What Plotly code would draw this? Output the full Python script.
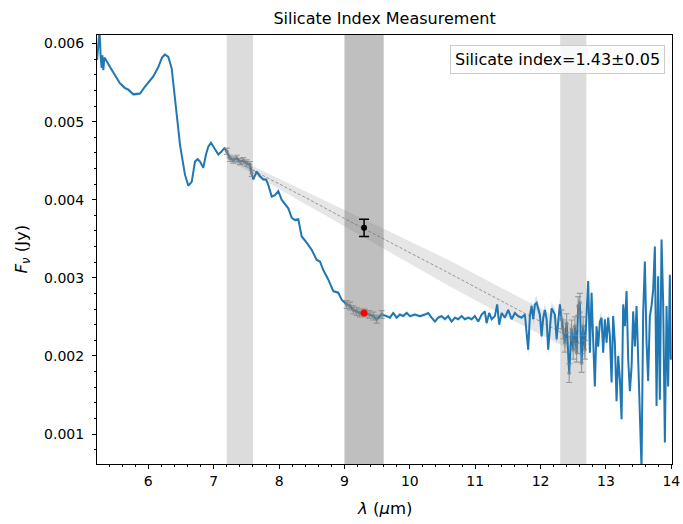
import numpy as np
import plotly.graph_objects as go

# ---------------- data ----------------
wave_um = [
    5.216, 5.235, 5.253, 5.272, 5.287, 5.297, 5.312, 5.327, 5.353, 5.414, 5.49, 5.567,
    5.644, 5.694, 5.771, 5.873, 5.95, 6.026, 6.076, 6.153, 6.209, 6.255, 6.306, 6.358,
    6.408, 6.454, 6.485, 6.531, 6.561, 6.612, 6.664, 6.714, 6.755, 6.79, 6.841, 6.882,
    6.917, 6.959, 7.005, 7.07, 7.112, 7.162, 7.20, 7.249, 7.30, 7.352, 7.402, 7.453,
    7.505, 7.555, 7.581, 7.606, 7.657, 7.708, 7.758, 7.80, 7.835, 7.887, 7.937, 7.988,
    8.04, 8.09, 8.141, 8.193, 8.243, 8.294, 8.346, 8.422, 8.498, 8.575, 8.625, 8.676,
    8.752, 8.829, 8.905, 8.957, 9.034, 9.084, 9.135, 9.186, 9.237, 9.313, 9.38, 9.44,
    9.492, 9.569, 9.645, 9.696, 9.746, 9.798, 9.849, 9.899, 9.951, 10.002, 10.078, 10.154,
    10.231, 10.281, 10.333, 10.384, 10.434, 10.486, 10.537, 10.587, 10.639, 10.69, 10.74, 10.792,
    10.843, 10.893, 10.945, 10.995, 11.046, 11.098, 11.148, 11.174, 11.214, 11.251, 11.301, 11.336,
    11.367, 11.404, 11.454, 11.505, 11.557, 11.607, 11.657, 11.709, 11.76, 11.81, 11.836, 11.862,
    11.887, 11.913, 11.939, 11.963, 11.989, 12.015, 12.04, 12.066, 12.092, 12.116, 12.142, 12.168,
    12.193, 12.219, 12.245, 12.269, 12.295, 12.321, 12.346, 12.371, 12.398, 12.437, 12.474, 12.499,
    12.525, 12.551, 12.575, 12.601, 12.627, 12.651, 12.677, 12.703, 12.728, 12.754, 12.78, 12.804,
    12.83, 12.856, 12.881, 12.907, 12.933, 12.957, 12.983, 13.009, 13.034, 13.06, 13.086, 13.11,
    13.136, 13.162, 13.187, 13.213, 13.239, 13.263, 13.289, 13.315, 13.34, 13.366, 13.392, 13.416,
    13.442, 13.468, 13.492, 13.518, 13.544, 13.569, 13.595, 13.621, 13.645, 13.671, 13.697, 13.722,
    13.748, 13.774, 13.798, 13.824, 13.85, 13.875, 13.901, 13.927, 13.951, 13.977, 13.992,
]
flux_mjy = [
    5.79, 5.94, 6.17, 5.82, 5.69, 5.85, 5.66, 5.82, 5.79, 5.70, 5.60, 5.49,
    5.43, 5.41, 5.35, 5.36, 5.45, 5.53, 5.58, 5.70, 5.82, 5.86, 5.83, 5.68,
    5.26, 4.90, 4.70, 4.47, 4.32, 4.18, 4.23, 4.49, 4.52, 4.49, 4.41, 4.58,
    4.68, 4.73, 4.66, 4.58, 4.61, 4.66, 4.62, 4.53, 4.51, 4.53, 4.49, 4.50,
    4.47, 4.45, 4.34, 4.26, 4.36, 4.30, 4.26, 4.26, 4.19, 4.04, 4.06, 4.11,
    4.00, 3.94, 3.89, 3.77, 3.74, 3.75, 3.53, 3.45, 3.36, 3.23, 3.21, 3.10,
    2.98, 2.83, 2.81, 2.72, 2.66, 2.64, 2.59, 2.57, 2.55, 2.55, 2.53, 2.51,
    2.47, 2.53, 2.51, 2.49, 2.55, 2.49, 2.53, 2.51, 2.55, 2.51, 2.53, 2.51,
    2.53, 2.55, 2.49, 2.44, 2.49, 2.51, 2.47, 2.51, 2.44, 2.49, 2.47, 2.51,
    2.47, 2.49, 2.47, 2.51, 2.44, 2.53, 2.57, 2.42, 2.55, 2.47, 2.51, 2.66,
    2.40, 2.55, 2.49, 2.59, 2.47, 2.55, 2.51, 2.49, 2.53, 2.08, 2.51, 2.64,
    2.47, 2.66, 2.68, 2.59, 2.53, 2.25, 2.49, 2.59, 2.47, 2.08, 2.40, 2.61,
    2.57, 2.53, 2.21, 2.47, 2.66, 2.47, 2.34, 2.17, 2.42, 1.78, 2.34, 2.08,
    2.38, 2.04, 2.64, 2.68, 1.91, 2.38, 2.08, 2.47, 2.96, 2.04, 2.81, 2.21,
    1.61, 2.38, 2.12, 2.44, 2.49, 2.04, 2.47, 2.17, 2.49, 2.25, 1.66, 2.51,
    2.17, 1.42, 2.00, 1.70, 1.19, 2.66, 2.38, 2.83, 1.95, 1.55, 1.87, 2.57,
    2.12, 2.64, 1.95, 1.31, 0.55, 2.55, 3.21, 2.17, 1.68, 2.51, 2.64, 2.85,
    3.40, 1.36, 3.02, 1.44, 3.49, 2.68, 0.89, 2.64, 1.61, 3.04, 1.95,
]
flux_err_quiet_jy = 0.00002   # spectrum uncertainty shortward of 11.8 um
flux_err_noisy_jy = 0.00008   # spectrum uncertainty longward of 11.8 um

# continuum windows and silicate window (um)
cont_band_1 = [7.2, 7.6]
sil_band = [9.0, 9.6]
cont_band_2 = [12.3, 12.7]
band_point_err_jy = [0.00004, 0.00005, 0.00012]

# fitted continuum and its uncertainty
cont_x = [7.2, 7.6, 8.4, 9.0, 9.6, 10.6, 11.5, 12.3, 12.7]
cont_mjy = [4.55, 4.38, 4.03, 3.76, 3.50, 3.06, 2.66, 2.31, 2.13]
cont_halfwidth_mjy = [0.03, 0.05, 0.08, 0.105, 0.13, 0.165, 0.17, 0.165, 0.16]

# measured flux and continuum at 9.3 um
sil_wave = [9.3]
sil_flux_jy = [0.00255]
cont_at_sil_jy = [0.00364]
cont_at_sil_err_jy = [0.00011]
legend_text = "Silicate index=1.43±0.05"

# ---------------- figure ----------------
w = np.array(wave_um)
f = np.array(flux_mjy) * 1e-3
ferr = np.where(w < 11.8, flux_err_quiet_jy, flux_err_noisy_jy)

fig = go.Figure()

# bands
for (x0, x1), col in [(cont_band_1, "rgba(128,128,128,0.28)"),
                      (sil_band, "rgba(128,128,128,0.5)"),
                      (cont_band_2, "rgba(128,128,128,0.28)")]:
    fig.add_shape(type="rect", xref="x", yref="paper", x0=x0, x1=x1, y0=0, y1=1,
                  fillcolor=col, line_width=0, layer="below")

# spectrum uncertainty halo
fig.add_trace(go.Scatter(x=w, y=f + ferr, mode="lines", line=dict(width=0),
                         hoverinfo="skip", showlegend=False))
fig.add_trace(go.Scatter(x=w, y=f - ferr, mode="lines", line=dict(width=0),
                         fill="tonexty", fillcolor="rgba(31,119,180,0.2)",
                         hoverinfo="skip", showlegend=False))

# continuum uncertainty band
cx = np.array(cont_x)
cy = np.array(cont_mjy) * 1e-3
ch = np.array(cont_halfwidth_mjy) * 1e-3
fig.add_trace(go.Scatter(x=cx, y=cy + ch, mode="lines", line=dict(width=0),
                         hoverinfo="skip", showlegend=False))
fig.add_trace(go.Scatter(x=cx, y=cy - ch, mode="lines", line=dict(width=0),
                         fill="tonexty", fillcolor="rgba(128,128,128,0.2)",
                         hoverinfo="skip", showlegend=False))

# spectrum
fig.add_trace(go.Scatter(x=w, y=f, mode="lines", line=dict(color="#1f77b4", width=2),
                         showlegend=False))

# continuum fit
fig.add_trace(go.Scatter(x=cx, y=cy, mode="lines",
                         line=dict(color="rgba(100,100,100,0.8)", width=0.8, dash="3px,2px"),
                         showlegend=False))

# points used in windows
for (x0, x1), e in zip([cont_band_1, sil_band, cont_band_2], band_point_err_jy):
    m = (w >= x0) & (w <= x1)
    fig.add_trace(go.Scatter(
        x=w[m], y=f[m], mode="markers",
        marker=dict(color="rgba(128,128,128,0.7)", size=4),
        error_y=dict(type="constant", value=e, color="rgba(128,128,128,0.7)",
                     thickness=1.2, width=3),
        showlegend=False))

# measured flux (red) and continuum value (black)
fig.add_trace(go.Scatter(x=sil_wave, y=sil_flux_jy, mode="markers",
                         marker=dict(color="red", size=7), showlegend=False))
fig.add_trace(go.Scatter(x=sil_wave, y=cont_at_sil_jy, mode="markers",
                         marker=dict(color="black", size=6),
                         error_y=dict(type="data", array=cont_at_sil_err_jy, color="black",
                                      thickness=1.5, width=5),
                         showlegend=False))

font_family = "DejaVu Sans"
axis_common = dict(ticks="outside", ticklen=4, tickwidth=1, tickcolor="black",
                   showline=True, linecolor="black", linewidth=1, mirror=True,
                   showgrid=False, zeroline=False, automargin=False,
                   tickfont=dict(family=font_family, size=14, color="black"))

fig.update_layout(
    width=683, height=524,
    margin=dict(l=97, r=11, t=35, b=60, autoexpand=False),
    paper_bgcolor="white", plot_bgcolor="white",
    title=dict(text="Silicate Index Measurement", x=0.563, xref="container",
               xanchor="center", y=1 - 18 / 524, yref="container", yanchor="middle",
               font=dict(family=font_family, size=16, color="black")),
    xaxis=dict(range=[5.215, 14.01], dtick=1, tick0=0,
               minor=dict(dtick=0.2, ticklen=2, ticks="outside", tickcolor="black"),
               **axis_common),
    yaxis=dict(range=[0.000616, 0.00611], dtick=0.001, tick0=0, tickformat=".3f",
               ticklabelstandoff=5,
               minor=dict(dtick=0.0002, ticklen=2, ticks="outside", tickcolor="black"),
               **axis_common),
    showlegend=False,
)

fig.add_annotation(text="<i>λ</i> (<i>μ</i>m)", xref="paper", yref="paper",
                   x=0.5, y=(464 - 508) / 429, xanchor="center", yanchor="middle",
                   showarrow=False, font=dict(family=font_family, size=16.5, color="black"))
fig.add_annotation(text="<i>F</i><sub><i>ν</i></sub> (Jy)", xref="paper", yref="paper",
                   x=(22 - 97) / 575, y=0.5, xanchor="center", yanchor="middle",
                   textangle=-90, showarrow=False,
                   font=dict(family=font_family, size=16.5, color="black"))
fig.add_annotation(text=legend_text, xref="paper", yref="paper",
                   x=(665 - 97) / 575, y=(464 - 45) / 429, xanchor="right", yanchor="top",
                   showarrow=False, bgcolor="rgba(255,255,255,0.8)",
                   bordercolor="#cccccc", borderwidth=1, borderpad=4,
                   font=dict(family=font_family, size=16, color="black"))

fig.write_html("out.html", config={"displayModeBar": False},
               post_script="document.body.style.margin='0';")
